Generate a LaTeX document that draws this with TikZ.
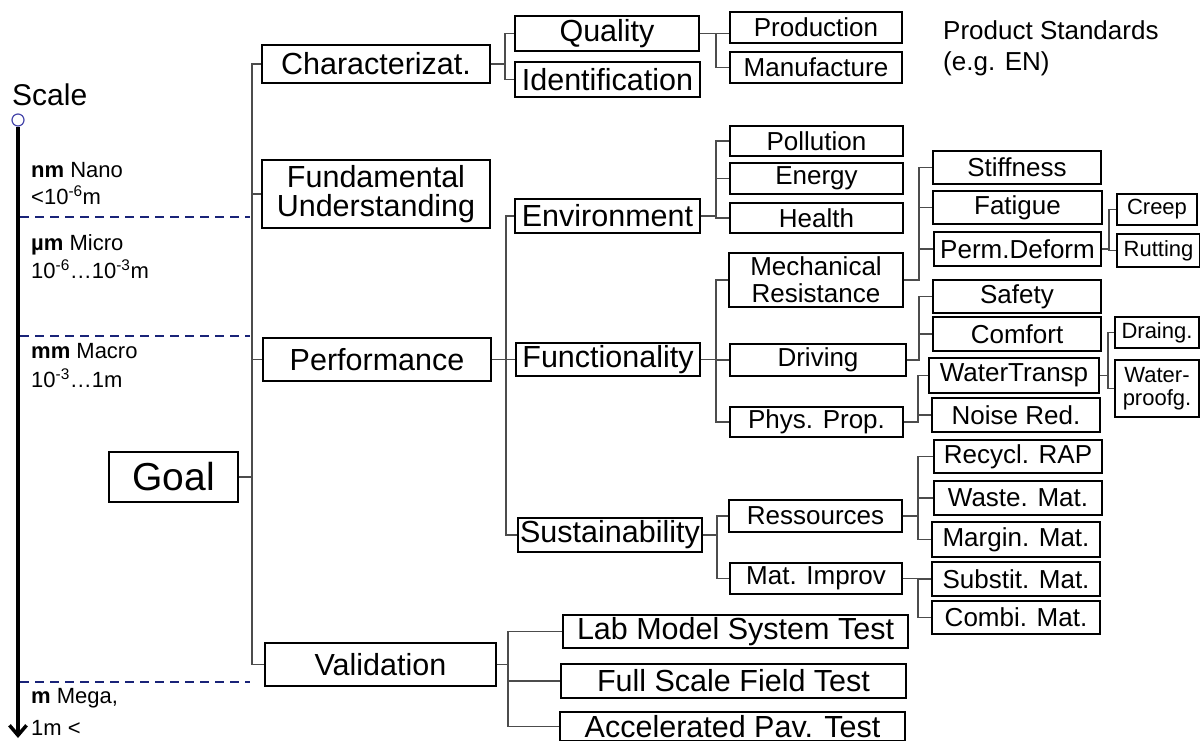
\documentclass[tikz,border=0pt]{standalone}
\usepackage{fontspec}
\setmainfont{Liberation Sans}
\usetikzlibrary{arrows.meta}
\definecolor{navy}{RGB}{25,35,120}
\definecolor{circblue}{RGB}{70,70,170}
\newcommand\szA{\fontsize{30.5}{29}\selectfont}
\newcommand\szB{\fontsize{26}{27}\selectfont}
\newcommand\szC{\fontsize{22}{23}\selectfont}
\newcommand\szG{\fontsize{39}{40}\selectfont}
\newcommand\szS{\fontsize{22}{24}\selectfont}
\newcommand\bx[7]{\node[box,font=#6,minimum width={(#4-#2)*1pt},minimum height={(#5-#3)*1pt}] (#1) at ({(#2+#4)/2},{(#3+#5)/2}) {#7};}
\newcommand\branch[3]{\foreach \c in {#3}{\draw[conn] (#1.east) -- ++(#2,0) |- (\c.west);}}
\begin{document}
\begin{tikzpicture}[x=1pt,y=-1pt,
  box/.style={draw=black, line width=1.8pt, inner sep=0pt, align=center, fill=white},
  conn/.style={draw=black!70, line width=1.3pt},
  dashline/.style={draw=navy, line width=2pt, dash pattern=on 9pt off 6pt},
  lab/.style={anchor=base west, inner sep=0pt, font=\szS}]
\useasboundingbox (0,0) rectangle (1200,742);

% scale
\node[anchor=base west, inner sep=0pt, font=\fontsize{30}{30}\selectfont] (scale) at (12,105) {Scale};
\node[circle, draw=circblue, line width=1.2pt, minimum size=12pt, inner sep=0pt, fill=white] (top) at (18,120) {};
\coordinate (bot) at (18,738);
\draw[line width=3.5pt, -{Straight Barb[length=10pt,width=17pt]}] (top.south) -- (bot);
\coordinate (d1a) at (20,217); \coordinate (d1b) at (250,217);
\coordinate (d2a) at (20,336); \coordinate (d2b) at (250,336);
\coordinate (d3a) at (20,682); \coordinate (d3b) at (250,682);
\draw[dashline] (d1a) -- (d1b);
\draw[dashline] (d2a) -- (d2b);
\draw[dashline] (d3a) -- (d3b);
\node[lab] (n1) at (31,177) {\textbf{nm} Nano};
\node[lab] (n2) at (31,204) {<10\textsuperscript{-6}m};
\node[lab] (m1) at (31,250) {\textbf{µm} Micro};
\node[lab] (m2) at (31,278) {10\textsuperscript{-6}…10\textsuperscript{-3}m};
\node[lab] (k1) at (31,358) {\textbf{mm} Macro};
\node[lab] (k2) at (31,387) {10\textsuperscript{-3}…1m};
\node[lab] (g1) at (31,703) {\textbf{m} Mega,};
\node[lab] (g2) at (31,735) {1m <};

% boxes
\bx{goal}{109}{452}{238}{502}{\szG}{Goal}
\bx{char}{262}{45}{490}{83}{\szA}{Characterizat.}
\bx{fund}{262}{160}{490}{228}{\szA}{Fundamental\\Understanding}
\bx{perf}{263}{338}{491}{381}{\szA}{Performance}
\bx{valid}{265}{643}{496}{686}{\szA}{Validation}
\bx{qual}{515}{16}{699}{51}{\szA}{Quality}
\bx{ident}{515}{62}{700}{97}{\szA}{Identification}
\bx{prod}{730}{12}{902}{43}{\szB}{Production}
\bx{manuf}{730}{52}{902}{83}{\szB}{Manufacture}
\bx{env}{515}{199}{700}{233}{\szA}{Environment}
\bx{func}{516}{343}{700}{376}{\szA}{Functionality}
\bx{sust}{518}{518}{702}{552}{\szA}{Sustainability}
\bx{poll}{730}{126}{903}{156}{\szB}{Pollution}
\bx{energy}{730}{163}{903}{194}{\szB}{Energy}
\bx{health}{730}{203}{903}{233}{\szB}{Health}
\bx{mech}{729}{253}{903}{307}{\szB}{Mechanical\\Resistance}
\bx{driv}{730}{344}{906}{376}{\szB}{Driving}
\bx{phys}{730}{407}{903}{437}{\szB}{Phys. Prop.}
\bx{stiff}{933}{151}{1101}{184}{\szB}{Stiffness}
\bx{fatig}{933}{191}{1102}{224}{\szB}{Fatigue}
\bx{perm}{934}{232}{1101}{266}{\szB}{Perm.Deform}
\bx{creep}{1117}{194}{1197}{225}{\szC}{Creep}
\bx{rutt}{1117}{234}{1200}{267}{\szC}{Rutting}
\bx{safety}{933}{280}{1101}{313}{\szB}{Safety}
\bx{comfort}{933}{317}{1101}{351}{\szB}{Comfort}
\bx{water}{929}{358}{1099}{393}{\szB}{WaterTransp}
\bx{noise}{932}{398}{1100}{432}{\szB}{Noise Red.}
\bx{drain}{1115}{317}{1199}{348}{\szC}{Draing.}
\bx{wproof}{1115}{360}{1199}{417}{\szC}{Water-\\proofg.}
\bx{ress}{729}{500}{902}{532}{\szB}{Ressources}
\bx{matimp}{730}{563}{902}{594}{\szB}{Mat. Improv}
\bx{recycl}{934}{440}{1102}{473}{\szB}{Recycl. RAP}
\bx{waste}{934}{481}{1102}{515}{\szB}{Waste. Mat.}
\bx{margin}{932}{522}{1100}{557}{\szB}{Margin. Mat.}
\bx{subst}{932}{562}{1100}{596}{\szB}{Substit. Mat.}
\bx{combi}{932}{601}{1100}{634}{\szB}{Combi. Mat.}
\bx{lab}{563}{615}{908}{648}{\szA}{Lab Model System Test}
\bx{full}{561}{664}{906}{698}{\szA}{Full Scale Field Test}
\bx{accel}{560}{712}{905}{740.5}{\szA}{Accelerated Pav. Test}

\node[anchor=base west, inner sep=0pt, font=\szB] (ps1) at (943,39) {Product Standards};
\node[anchor=base west, inner sep=0pt, font=\szB] (ps2) at (943,70) {(e.g. EN)};

% connectors
\branch{goal}{13}{char,fund,perf,valid}
\branch{char}{14}{qual,ident}
\draw[conn] (qual.east) -- (prod.west |- qual.east);
\draw[conn] (qual.east) -- ++(16,0) |- (manuf.west);
\branch{perf}{14}{env,func,sust}
\branch{env}{15}{poll,energy,health}
\branch{func}{15}{mech,driv,phys}
\branch{mech}{15}{stiff,fatig,perm}
\branch{perm}{7}{creep,rutt}
\branch{driv}{12}{safety,comfort}
\branch{phys}{14}{water,noise}
\branch{water}{8}{drain,wproof}
\branch{sust}{14}{ress,matimp}
\branch{ress}{15}{recycl,waste,margin}
\branch{matimp}{15}{subst,combi}
\branch{valid}{11}{lab,full,accel}
\end{tikzpicture}
\end{document}
